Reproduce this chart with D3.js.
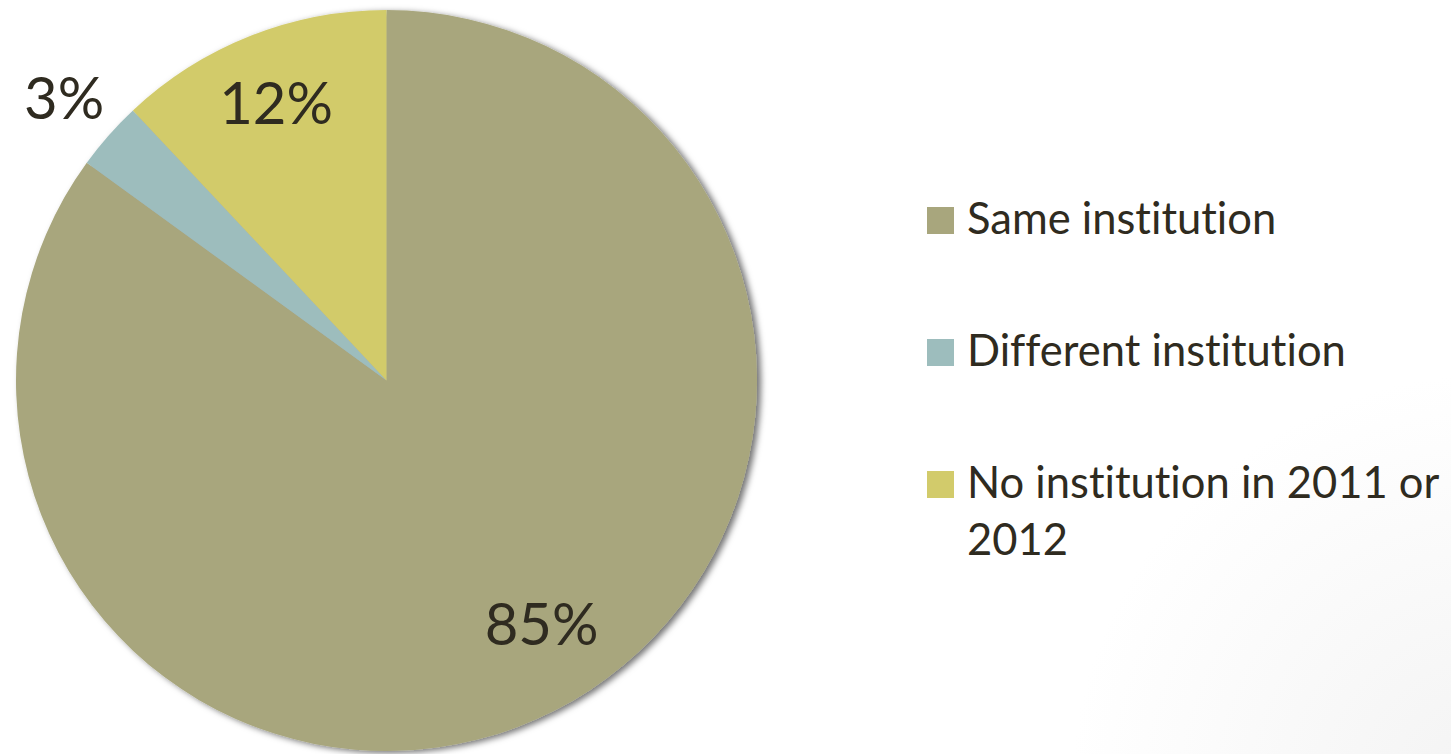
<!DOCTYPE html>
<html>
<head>
<meta charset="utf-8">
<script src="https://cdn.jsdelivr.net/npm/d3@7"></script>
<style>
  html, body { margin: 0; padding: 0; background: #fff; }
  svg { display: block; }
  text { font-family: Lato, "Open Sans", sans-serif; fill: #2f2b20; font-variant-ligatures: none; }
</style>
</head>
<body>
<svg id="chart" width="1451" height="754"></svg>
<script>
// Where students were enrolled afterwards (share of total)
const categories = ["Same institution", "Different institution", "No institution in 2011 or 2012"];
const values = [85, 3, 12];
const valueLabels = ["85%", "3%", "12%"];
const colors = ["#a8a67d", "#9dbdbd", "#d2cb6b"];

const W = 1451, H = 754;
const svg = d3.select("#chart");

// faint corner shading of the slide background
const defs = svg.append("defs");
const bg = defs.append("radialGradient").attr("id", "bgShade")
  .attr("gradientUnits", "userSpaceOnUse")
  .attr("cx", W + 40).attr("cy", H + 40).attr("r", 420);
bg.append("stop").attr("offset", "0").attr("stop-color", "#f3f3f3");
bg.append("stop").attr("offset", "1").attr("stop-color", "#ffffff");
svg.append("rect").attr("width", W).attr("height", H).attr("fill", "url(#bgShade)");

const shadow = defs.append("filter").attr("id", "pieShadow")
  .attr("x", "-10%").attr("y", "-10%").attr("width", "120%").attr("height", "120%");
shadow.append("feDropShadow").attr("dx", 4).attr("dy", 2).attr("stdDeviation", 3)
  .attr("flood-color", "#000").attr("flood-opacity", 0.55);

const cx = 386.5, cy = 380.5, radius = 370.5;

const pie = d3.pie().sort(null).value(d => d);
const arcs = pie(values);
const arc = d3.arc().innerRadius(0).outerRadius(radius);

const g = svg.append("g").attr("transform", `translate(${cx},${cy})`);
g.append("g").attr("filter", "url(#pieShadow)")
  .selectAll("path").data(arcs).join("path")
  .attr("d", arc)
  .attr("fill", (d, i) => colors[i]);

// value labels: placed along each slice's bisector
const labelRadius = [0.775, 1.16, 0.81];
const labelShift = [-5.7, 0, 0];   // degrees
g.selectAll("text.val").data(arcs).join("text")
  .attr("class", "val")
  .attr("text-anchor", "middle")
  .attr("dominant-baseline", "central")
  .attr("font-size", 58)
  .attr("x", (d, i) => {
    const a = (d.startAngle + d.endAngle) / 2 + labelShift[i] * Math.PI / 180;
    return Math.sin(a) * radius * labelRadius[i];
  })
  .attr("y", (d, i) => {
    const a = (d.startAngle + d.endAngle) / 2 + labelShift[i] * Math.PI / 180;
    return -Math.cos(a) * radius * labelRadius[i];
  })
  .text((d, i) => valueLabels[i]);

// legend
const legendWrap = [["Same institution"], ["Different institution"], ["No institution in 2011 or", "2012"]];
const legend = svg.append("g").attr("transform", "translate(927,207)");
const item = legend.selectAll("g").data(categories).join("g")
  .attr("transform", (d, i) => `translate(0,${i * 132})`);
item.append("rect").attr("width", 27).attr("height", 27).attr("fill", (d, i) => colors[i]);
item.append("text")
  .attr("x", 40).attr("y", 27)
  .attr("font-size", 43.5)
  .selectAll("tspan").data((d, i) => legendWrap[i]).join("tspan")
  .attr("x", 40).attr("dy", (d, j) => j === 0 ? 0 : 57)
  .text(d => d);
</script>
</body>
</html>
